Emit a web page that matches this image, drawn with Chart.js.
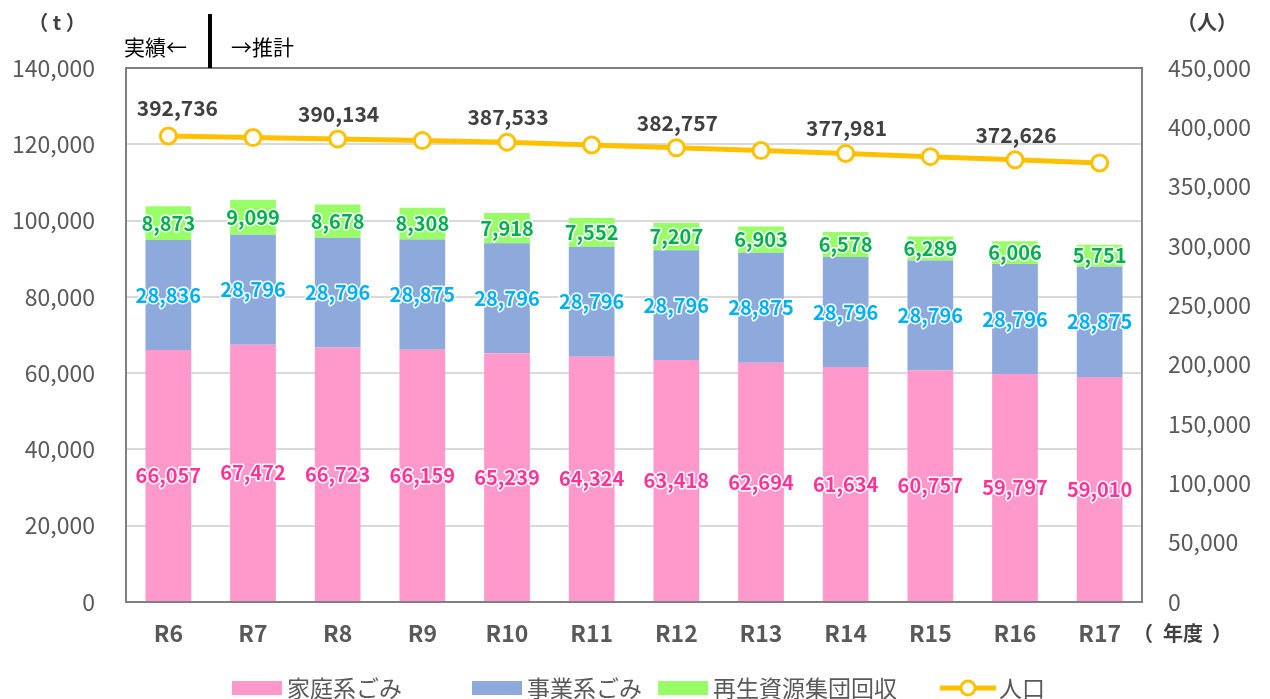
<!DOCTYPE html>
<html>
<head>
<meta charset="utf-8">
<script src="https://cdn.jsdelivr.net/npm/chart.js@4.4.1/dist/chart.umd.min.js"></script>
<style>
  html, body { margin: 0; padding: 0; background: #fff; }
  #wrap { position: relative; width: 1270px; height: 699px; }
</style>
</head>
<body>
<div id="wrap"><canvas id="chart" width="1270" height="699"></canvas></div>
<script>
const years = ['R6', 'R7', 'R8', 'R9', 'R10', 'R11', 'R12', 'R13', 'R14', 'R15', 'R16', 'R17'];
const household = [66057, 67472, 66723, 66159, 65239, 64324, 63418, 62694, 61634, 60757, 59797, 59010];
const business = [28836, 28796, 28796, 28875, 28796, 28796, 28796, 28875, 28796, 28796, 28796, 28875];
const recycling = [8873, 9099, 8678, 8308, 7918, 7552, 7207, 6903, 6578, 6289, 6006, 5751];
const population = [392736, 391400, 390134, 388800, 387533, 385100, 382757, 380400, 377981, 375300, 372626, 370000];
const popLabelIdx = [0, 2, 4, 6, 8, 10];

const FONT = '"Noto Sans CJK JP", "Noto Sans", sans-serif';
const fmt = v => v.toLocaleString('en-US');

// labels inside the stacked bars + population labels + frame + titles + legend
const decorPlugin = {
    id: 'decor',
    afterDatasetsDraw(chart) {
        const ctx = chart.ctx;
        const colors = ['#FF3399', '#00B0F0', '#00B050'];
        ctx.save();
        ctx.font = 'bold 20px ' + FONT;
        ctx.textAlign = 'center';
        ctx.textBaseline = 'middle';
        ctx.lineJoin = 'round';
        [0, 1, 2].forEach(di => {
            const meta = chart.getDatasetMeta(di);
            const data = chart.data.datasets[di].data;
            meta.data.forEach((bar, i) => {
                const y = (bar.y + bar.base) / 2;
                const txt = fmt(data[i]);
                ctx.strokeStyle = '#fff';
                ctx.lineWidth = 3;
                ctx.strokeText(txt, bar.x, y);
                ctx.fillStyle = colors[di];
                ctx.fillText(txt, bar.x, y);
            });
        });

        // population labels
        const lineMeta = chart.getDatasetMeta(3);
        ctx.font = 'bold 21px ' + FONT;
        ctx.fillStyle = '#404040';
        popLabelIdx.forEach(i => {
            const p = lineMeta.data[i];
            const dx = i === 0 ? 9 : 1;
            const dy = i === 0 ? 28 : 25;
            ctx.fillText(fmt(population[i]), p.x + dx, p.y - dy);
        });
        ctx.restore();
    },
    afterDraw(chart) {
        const ctx = chart.ctx;
        const a = chart.chartArea;
        ctx.save();
        // frame
        ctx.strokeStyle = '#7F7F7F';
        ctx.lineWidth = 2;
        ctx.strokeRect(a.left, a.top, a.right - a.left, a.bottom - a.top);

        // unit titles
        ctx.fillStyle = '#404040';
        ctx.font = 'bold 20px ' + FONT;
        ctx.textBaseline = 'middle';
        ctx.textAlign = 'center';
        ctx.fillText('（ t ）', 57, 22);
        ctx.fillText('（人）', 1207, 22);
        ctx.fillText('（', 1143, 633);
        ctx.fillText('年度', 1183, 633);
        ctx.fillText('）', 1222, 633);

        // actual / forecast divider
        ctx.fillStyle = '#000';
        ctx.font = '21px ' + FONT;
        ctx.textAlign = 'left';
        ctx.fillText('実績←', 124, 47);
        ctx.fillText('→推計', 231, 47);
        ctx.fillRect(208, 14, 4, a.top - 14);

        // legend
        const ly = 688;
        const items = [
            { t: '家庭系ごみ', c: '#FF99CC', x: 232 },
            { t: '事業系ごみ', c: '#8EA9DB', x: 472 },
            { t: '再生資源集団回収', c: '#99FF66', x: 658 }
        ];
        ctx.font = '23px ' + FONT;
        items.forEach(it => {
            ctx.fillStyle = it.c;
            ctx.fillRect(it.x, ly - 7, 50, 14);
            ctx.fillStyle = '#595959';
            ctx.fillText(it.t, it.x + 55, ly);
        });
        ctx.strokeStyle = '#FFC000';
        ctx.lineWidth = 5;
        ctx.beginPath();
        ctx.moveTo(940, ly);
        ctx.lineTo(996, ly);
        ctx.stroke();
        ctx.beginPath();
        ctx.arc(968, ly, 7, 0, Math.PI * 2);
        ctx.fillStyle = '#fff';
        ctx.fill();
        ctx.lineWidth = 3;
        ctx.stroke();
        ctx.fillStyle = '#595959';
        ctx.fillText('人口', 999, ly);
        ctx.restore();
    }
};

new Chart(document.getElementById('chart').getContext('2d'), {
    type: 'bar',
    data: {
        labels: years,
        datasets: [
            { label: '家庭系ごみ', data: household, backgroundColor: '#FF99CC', stack: 's', yAxisID: 'y', order: 2 },
            { label: '事業系ごみ', data: business, backgroundColor: '#8EA9DB', stack: 's', yAxisID: 'y', order: 2 },
            { label: '再生資源集団回収', data: recycling, backgroundColor: '#99FF66', stack: 's', yAxisID: 'y', order: 2 },
            {
                type: 'line', label: '人口', data: population, yAxisID: 'y1', order: 1,
                borderColor: '#FFC000', borderWidth: 5, tension: 0,
                pointRadius: 8, pointHoverRadius: 8, pointBackgroundColor: '#fff',
                pointBorderColor: '#FFC000', pointBorderWidth: 3
            }
        ]
    },
    options: {
        responsive: false,
        animation: false,
        layout: { padding: { top: 68, left: 0, right: 0, bottom: 0 } },
        categoryPercentage: 1,
        barPercentage: 0.54,
        scales: {
            x: {
                stacked: true,
                grid: { display: false, drawTicks: false },
                border: { display: false },
                ticks: { color: '#595959', font: { family: FONT, size: 23, weight: 'bold' }, padding: 17 },
                afterFit(s) { s.height = 97; }
            },
            y: {
                stacked: true,
                min: 0, max: 140000,
                grid: { color: '#D9D9D9', lineWidth: 2, drawTicks: false },
                border: { display: false },
                ticks: {
                    stepSize: 20000, color: '#595959', padding: 31,
                    font: { family: FONT, size: 23 },
                    callback: v => fmt(v)
                },
                afterFit(s) { s.width = 126; }
            },
            y1: {
                position: 'right',
                min: 0, max: 450000,
                grid: { display: false, drawTicks: false },
                border: { display: false },
                ticks: {
                    stepSize: 50000, color: '#595959', padding: 26,
                    font: { family: FONT, size: 23 },
                    callback: v => fmt(v)
                },
                afterFit(s) { s.width = 128; }
            }
        },
        plugins: {
            legend: { display: false },
            tooltip: { enabled: false }
        }
    },
    plugins: [decorPlugin]
});
</script>
</body>
</html>
